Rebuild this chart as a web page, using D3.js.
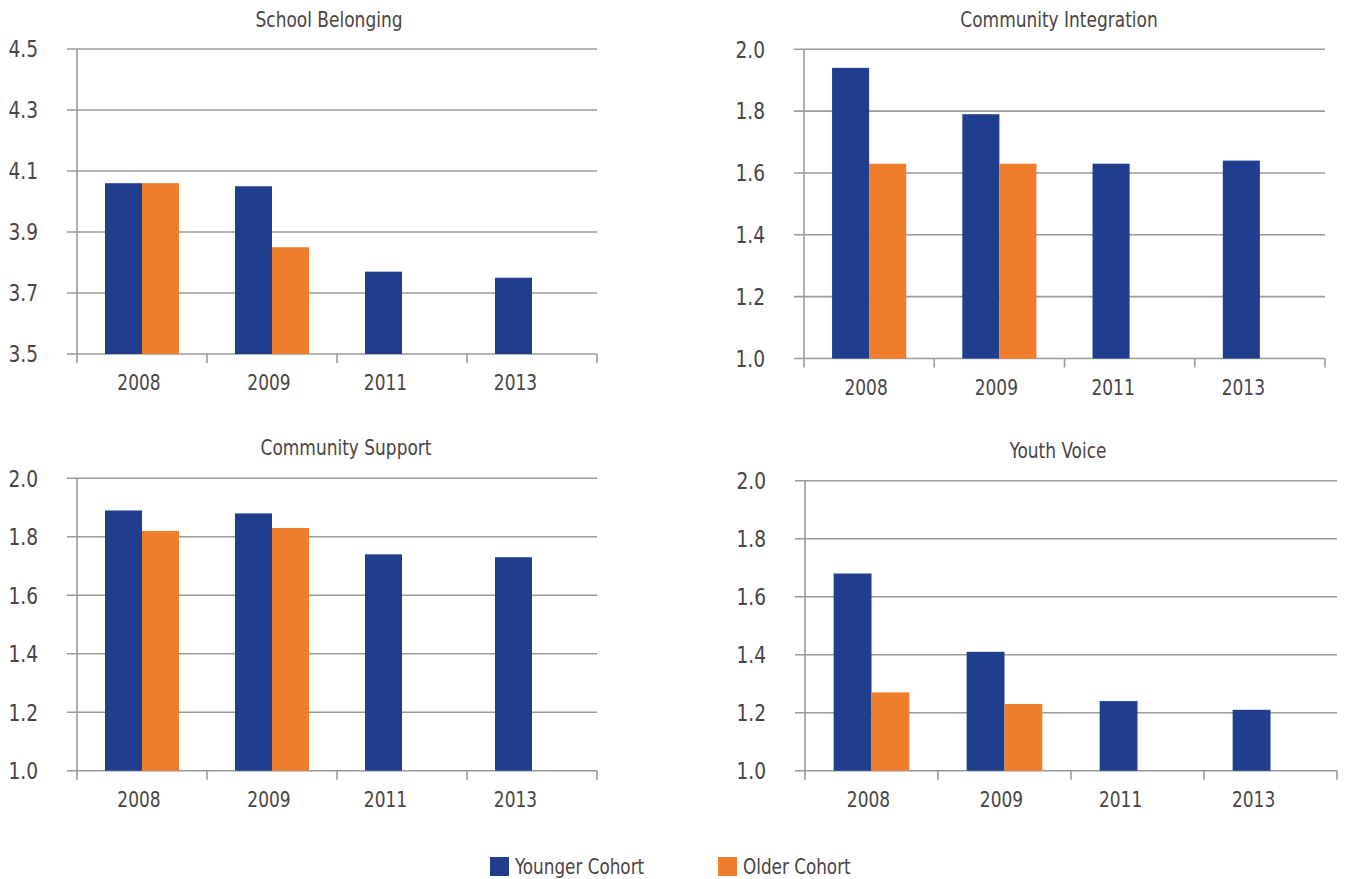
<!DOCTYPE html>
<html>
<head>
<meta charset="utf-8">
<script src="https://cdn.jsdelivr.net/npm/d3@7"></script>
<style>
  html, body { margin: 0; padding: 0; background: #ffffff; }
  svg { display: block; }
  text { font-family: "Liberation Sans Narrow", "DejaVu Sans Condensed", "Liberation Sans", sans-serif; fill: #4a4446; }
</style>
</head>
<body>
<svg id="chart" width="1346" height="879"></svg>
<script>
// ---- data ----
const years = ["2008", "2009", "2011", "2013"];
const seriesNames = ["Younger Cohort", "Older Cohort"];
const panelTitles = ["School Belonging", "Community Integration", "Community Support", "Youth Voice"];

const schoolBelongingYounger = [4.06, 4.05, 3.77, 3.75];
const schoolBelongingOlder   = [4.06, 3.85, null, null];
const communityIntegrationYounger = [1.94, 1.79, 1.63, 1.64];
const communityIntegrationOlder   = [1.63, 1.63, null, null];
const communitySupportYounger = [1.89, 1.88, 1.74, 1.73];
const communitySupportOlder   = [1.82, 1.83, null, null];
const youthVoiceYounger = [1.68, 1.41, 1.24, 1.21];
const youthVoiceOlder   = [1.27, 1.23, null, null];

const schoolBelongingTicks = [3.5, 3.7, 3.9, 4.1, 4.3, 4.5];
const scaleTicks = [1.0, 1.2, 1.4, 1.6, 1.8, 2.0];

// ---- layout ----
const colors = { "Younger Cohort": "#1f3e8e", "Older Cohort": "#ef7d2c" };
const gridColor = "#9a9a9a";

const panels = [
  { title: panelTitles[0], younger: schoolBelongingYounger, older: schoolBelongingOlder, ticks: schoolBelongingTicks,
    x0: 77, x1: 597, yTop: 49, yBase: 354, titleX: 329, titleY: 21 },
  { title: panelTitles[1], younger: communityIntegrationYounger, older: communityIntegrationOlder, ticks: scaleTicks,
    x0: 804, x1: 1325, yTop: 49.3, yBase: 358.5, titleX: 1059, titleY: 21 },
  { title: panelTitles[2], younger: communitySupportYounger, older: communitySupportOlder, ticks: scaleTicks,
    x0: 77, x1: 597, yTop: 478.3, yBase: 770.7, titleX: 346, titleY: 449 },
  { title: panelTitles[3], younger: youthVoiceYounger, older: youthVoiceOlder, ticks: scaleTicks,
    x0: 805, x1: 1337, yTop: 480.7, yBase: 770.7, titleX: 1058, titleY: 452 }
];

const svg = d3.select("#chart");

// text with horizontal compression to mimic a condensed face
function condensed(sel, sx) {
  return sel.attr("transform", function () {
    const tx = +this.getAttribute("data-x"), ty = +this.getAttribute("data-y");
    return `translate(${tx},${ty}) scale(${sx},1)`;
  });
}

panels.forEach(p => {
  const g = svg.append("g");
  const x = d3.scaleBand().domain(years).range([p.x0, p.x1]).paddingInner(0).paddingOuter(0);
  const xs = d3.scaleBand().domain(seriesNames).range([0, x.bandwidth()]).paddingInner(0).paddingOuter(0.757);
  const y = d3.scaleLinear().domain([p.ticks[0], p.ticks[p.ticks.length - 1]]).range([p.yBase, p.yTop]);

  // gridlines
  g.selectAll("line.grid").data(p.ticks).join("line")
    .attr("x1", p.x0 - 10).attr("x2", p.x1)
    .attr("y1", d => y(d)).attr("y2", d => y(d))
    .attr("stroke", gridColor).attr("stroke-width", 1.6);

  // y tick labels
  g.selectAll("text.ylab").data(p.ticks).join("text")
    .attr("data-x", p.x0 - 39).attr("data-y", d => y(d) + 2)
    .attr("text-anchor", "end").attr("dominant-baseline", "middle")
    .attr("font-size", 23)
    .text(d => d3.format(".1f")(d))
    .call(condensed, 0.9);

  // bars
  const rows = years.map((yr, i) => ({ yr, vals: [
    { s: seriesNames[0], v: p.younger[i] },
    { s: seriesNames[1], v: p.older[i] } ].filter(d => d.v != null) }));

  const grp = g.selectAll("g.grp").data(rows).join("g").attr("transform", d => `translate(${x(d.yr)},0)`);
  grp.selectAll("rect").data(d => d.vals).join("rect")
    .attr("x", d => xs(d.s)).attr("width", xs.bandwidth())
    .attr("y", d => y(d.v)).attr("height", d => p.yBase - y(d.v))
    .attr("fill", d => colors[d.s]);

  // y axis line
  g.append("line").attr("x1", p.x0).attr("x2", p.x0).attr("y1", p.yTop).attr("y2", p.yBase + 9)
    .attr("stroke", gridColor).attr("stroke-width", 1.6);
  // x ticks at band boundaries
  const bounds = years.map(yr => x(yr)).concat([p.x1]).slice(1);
  g.selectAll("line.xt").data(bounds).join("line")
    .attr("x1", d => d).attr("x2", d => d).attr("y1", p.yBase).attr("y2", p.yBase + 9)
    .attr("stroke", gridColor).attr("stroke-width", 1.6);

  // x labels centered under drawn bars
  g.selectAll("text.xl").data(rows).join("text")
    .attr("data-x", d => {
      const first = xs(d.vals[0].s), last = xs(d.vals[d.vals.length - 1].s) + xs.bandwidth();
      return x(d.yr) + (first + last) / 2 - (d.vals.length > 1 ? 3 : -2);
    })
    .attr("data-y", p.yBase + 30)
    .attr("text-anchor", "middle").attr("dominant-baseline", "middle")
    .attr("font-size", 22)
    .text(d => d.yr)
    .call(condensed, 0.86);

  // title
  g.append("text").attr("data-x", p.titleX).attr("data-y", p.titleY)
    .attr("text-anchor", "middle").attr("dominant-baseline", "middle")
    .attr("font-size", 21)
    .text(p.title)
    .call(condensed, 0.9);
});

// legend
const legendItems = [
  { name: seriesNames[0], x: 490 },
  { name: seriesNames[1], x: 718 }
];
const lg = svg.append("g");
lg.selectAll("rect").data(legendItems).join("rect")
  .attr("x", d => d.x).attr("y", 857).attr("width", 19).attr("height", 19)
  .attr("fill", d => colors[d.name]);
lg.selectAll("text").data(legendItems).join("text")
  .attr("data-x", d => d.x + 25).attr("data-y", 868)
  .attr("dominant-baseline", "middle").attr("font-size", 22)
  .text(d => d.name)
  .call(condensed, 0.85);
</script>
</body>
</html>
